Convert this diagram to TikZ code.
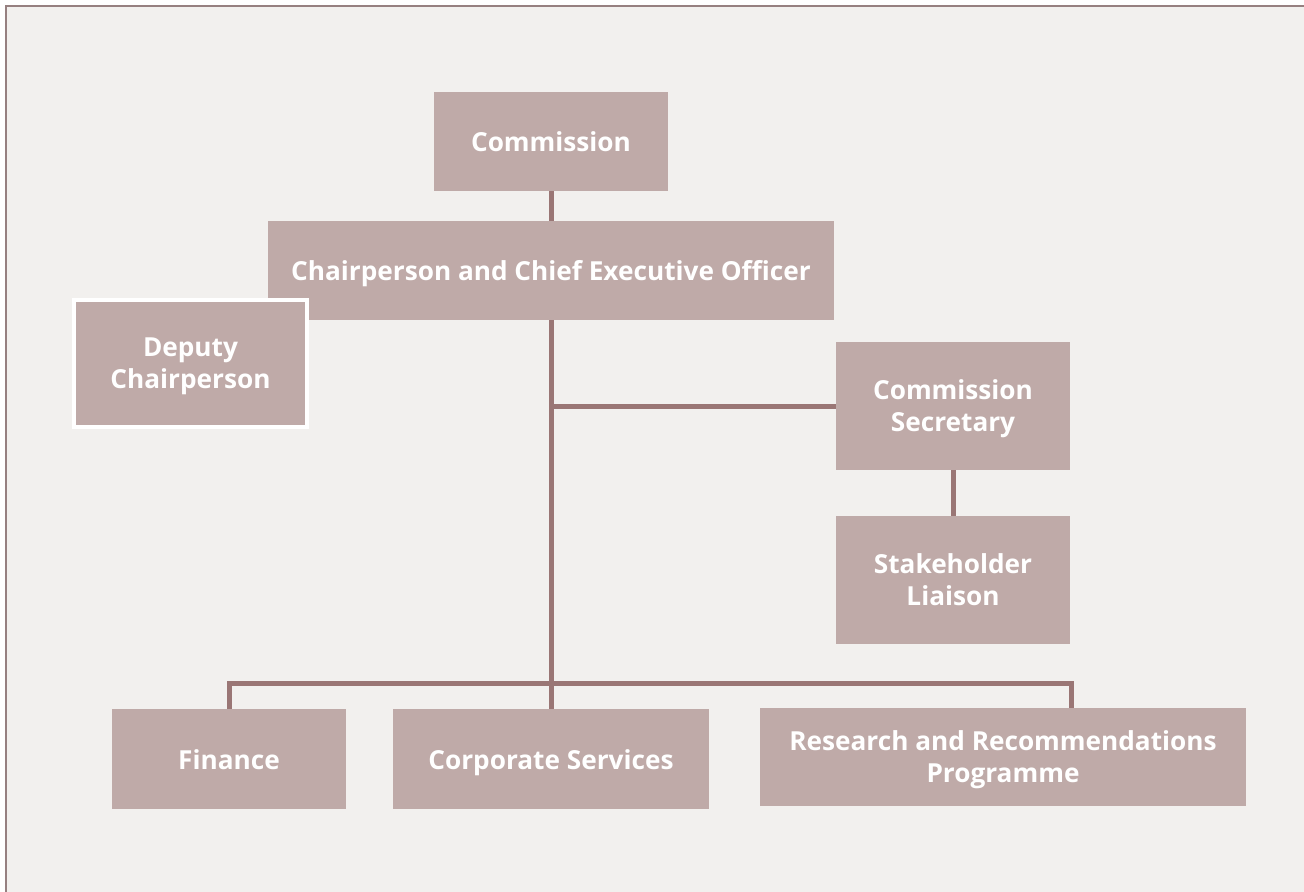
\documentclass[tikz,border=0pt]{standalone}
\usepackage{fontspec}
\setmainfont{Open Sans}
\definecolor{boxfill}{HTML}{BFAAA8}
\definecolor{linkcol}{HTML}{9A7675}
\definecolor{paper}{HTML}{F2F0EE}
\definecolor{framecol}{HTML}{968080}
\begin{document}
\begin{tikzpicture}[x=0.5pt,y=-0.5pt,
  unit/.style={fill=boxfill,inner sep=0pt,outer sep=0pt,anchor=center},
  label text/.style={text=white,font=\bfseries\fontsize{13.1}{16}\selectfont,
    align=center,inner sep=0pt,anchor=center},
  oneline/.style={label text,text height=0.714em+3pt,text depth=0pt},
  link/.style={draw=linkcol,line width=2.5pt,line join=miter}]
\useasboundingbox (0,0) rectangle (1304,891);
% page and frame
\fill[white] (0,0) rectangle (1304,891);
\fill[paper] (5.5,5.5) rectangle (1310,900);
\draw[framecol,line width=1pt] (5.5,900) -- (5.5,5.5) -- (1310,5.5);

% unit boxes
\node[unit,minimum width=117pt,minimum height=49.5pt] (comm) at (551,141.5) {};
\node[unit,minimum width=283pt,minimum height=49.5pt] (chair) at (551,270.5) {};
\node[unit,minimum width=117pt,minimum height=64pt] (sec) at (953,406) {};
\node[unit,minimum width=117pt,minimum height=64pt] (stake) at (953,580) {};
\node[unit,minimum width=117pt,minimum height=50pt] (fin) at (229,759) {};
\node[unit,minimum width=158pt,minimum height=50pt] (corp) at (551,759) {};
\node[unit,minimum width=243pt,minimum height=49pt] (res) at (1003,757) {};

% connectors
\coordinate (busL) at (229,683);
\coordinate (busR) at (1071,683);
\draw[link] (comm.south) -- (chair.north);
\draw[link] (chair.south) -- (corp.north);
\draw[link] (chair.south |- sec.west) -- (sec.west);
\draw[link] (sec.south) -- (stake.north);
\draw[link] (fin.north) -- (busL) -- (busR) -- (busR |- res.north);

% deputy box sits over the corner of the chair box
\node[unit,minimum width=116.5pt,minimum height=63.5pt,draw=white,line width=2pt] (dep) at (190.5,363.5) {};

% unit titles
\node[oneline] (commT) at (comm) {Commission};
\node[oneline] (chairT) at (chair) {Chairperson and Chief Executive Officer};
\node[oneline] (finT) at (fin) {Finance};
\node[oneline] (corpT) at (corp) {Corporate Services};
\node[label text] (depT) at ([yshift=-1.5pt]dep.center) {Deputy\\Chairperson};
\node[label text] (secT) at ([yshift=-1.2pt]sec.center) {Commission\\Secretary};
\node[label text] (stakeT) at ([yshift=0pt]stake.center) {Stakeholder\\Liaison};
\node[label text] (resT) at ([yshift=-1.5pt]res.center) {Research and Recommendations\\Programme};
\end{tikzpicture}
\end{document}
